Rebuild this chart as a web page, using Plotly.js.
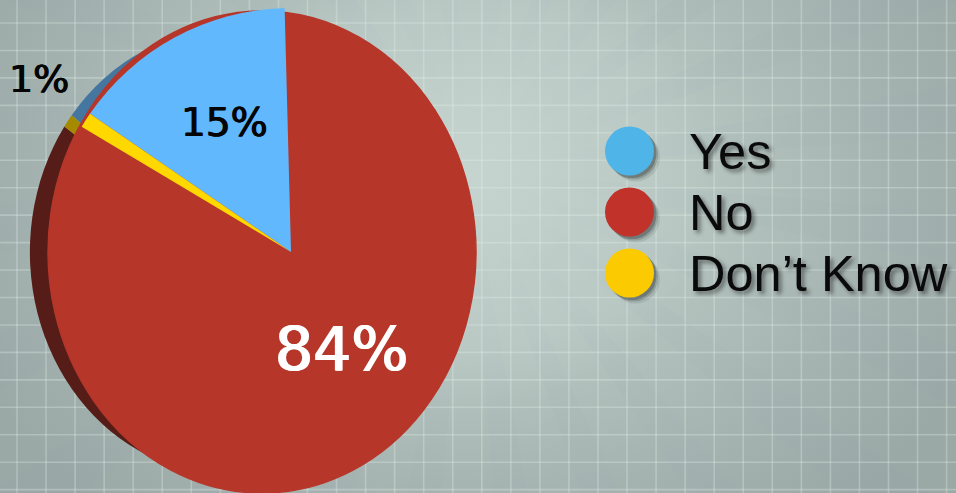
<!DOCTYPE html>
<html>
<head>
<meta charset="utf-8">
<script src="https://cdn.plot.ly/plotly-3.0.1.min.js"></script>
<style>
  html, body { margin: 0; padding: 0; width: 956px; height: 493px; overflow: hidden; }
  body {
    background:
      radial-gradient(circle 240px at 470px 170px, rgba(198,212,207,1) 0%, rgba(190,205,200,.75) 50%, rgba(182,197,192,0) 100%),
      repeating-conic-gradient(from 5deg at 470px 170px, rgba(135,155,175,.06) 0deg 6deg, rgba(255,255,255,0) 6deg 15deg),
      radial-gradient(ellipse 560px 430px at 470px 180px, #c6d4cf 0%, #b6c5c0 40%, #a5b3b0 75%, #9aa8a6 100%);
  }
  #chart { width: 956px; height: 493px; overflow: hidden; }
  /* the original disc is drawn in perspective: it is squeezed sideways, and its wedges meet off-centre */
  .pielayer .trace:not(:last-child) { transform-origin: 262px 252px; transform: scaleX(0.888); }
</style>
</head>
<body>
<div id="chart"></div>
<script>
const categories = ["Yes", "No", "Don\u2019t Know"];
const shares = [15, 84, 1];
const sliceColors = ["#62b8fd", "rgba(0,0,0,0)", "#ffd800"];
const discColors = ["#b7362a", "#b7362a", "#b7362a"];
const edgeColors = ["#45769f", "#551c18", "#a58a00"];
const swatchColors = ["#4fb5e8", "#c0322a", "#fcca00"];

const W = 956, H = 520;
const px = x => x / W;
const py = y => 1 - y / H;

function domainFor(cx, cy, r) {
  return { x: [px(cx - r), px(cx + r)], y: [py(cy + r), py(cy - r)] };
}

const pieBase = {
  type: "pie", values: shares, labels: categories, sort: false,
  direction: "clockwise", textinfo: "none",
  hoverinfo: "label+percent", showlegend: false
};

const traces = [
  Object.assign({}, pieBase, { rotation: -52, domain: domainFor(222.6, 252, 222), marker: { colors: edgeColors, line: { width: 0 } } }),
  Object.assign({}, pieBase, { rotation: 0, domain: domainFor(262, 252, 241), marker: { colors: discColors, line: { color: "#b7362a", width: 1.5 } } }),
  Object.assign({}, pieBase, { rotation: -55.5, domain: domainFor(291, 252, 244), marker: { colors: sliceColors, line: { width: 0 } } })
];

const shapes = [];
const gridColor = "rgba(228,238,233,0.32)";
for (let x = 17; x < W; x += 29.05) {
  shapes.push({ type: "line", xref: "paper", yref: "paper", x0: px(x), x1: px(x), y0: 0, y1: 1, layer: "below", line: { color: gridColor, width: 1.6 } });
}
for (let y = 23; y < H; y += 27.45) {
  shapes.push({ type: "line", xref: "paper", yref: "paper", x0: 0, x1: 1, y0: py(y), y1: py(y), layer: "below", line: { color: gridColor, width: 1.6 } });
}

const swatchX = 629.5, swatchR = 24.5, rowY = [151, 212, 273];
const annotations = [];
categories.forEach((name, i) => {
  [[6, 0.10], [4, 0.18], [2.5, 0.28]].forEach(([d, a]) => {
    shapes.push({ type: "circle", xref: "paper", yref: "paper", layer: "below",
      x0: px(swatchX - swatchR + d), x1: px(swatchX + swatchR + d),
      y0: py(rowY[i] + swatchR + d), y1: py(rowY[i] - swatchR + d),
      fillcolor: "rgba(30,35,35," + a + ")", line: { width: 0 } });
  });
  shapes.push({ type: "circle", xref: "paper", yref: "paper", layer: "below",
    x0: px(swatchX - swatchR), x1: px(swatchX + swatchR),
    y0: py(rowY[i] + swatchR), y1: py(rowY[i] - swatchR),
    fillcolor: swatchColors[i], line: { width: 0 } });
  annotations.push({ xref: "paper", yref: "paper", x: px(687), y: py(rowY[i] + 0.5), xanchor: "left", yanchor: "middle",
    text: name, showarrow: false,
    font: { family: "Liberation Sans, Arial, sans-serif", size: 50.5, color: "#0a0a0a", shadow: "3px 3px 4px rgba(0,0,0,0.45)" } });
});

const labelPos = [[224, 122, 39, "#050505"], [341, 349, 60, "#ffffff"], [39, 79, 38, "#050505"]];
labelPos.forEach((p, i) => {
  const thick = p[3] === "#ffffff" ? "0.9px" : "0.6px";
  annotations.push({ xref: "paper", yref: "paper", x: px(p[0]), y: py(p[1]), xanchor: "center", yanchor: "middle",
    text: shares[i] + "%", showarrow: false,
    font: { family: "DejaVu Sans, Verdana, sans-serif", size: p[2], color: p[3],
            shadow: thick + " 0 0 " + p[3] + ", -" + thick + " 0 0 " + p[3] } });
});

Plotly.newPlot("chart", traces, {
  width: W, height: H,
  margin: { l: 0, r: 0, t: 0, b: 0, pad: 0 },
  paper_bgcolor: "rgba(0,0,0,0)", plot_bgcolor: "rgba(0,0,0,0)",
  showlegend: false, shapes: shapes, annotations: annotations
}, { displayModeBar: false, staticPlot: true });
</script>
</body>
</html>
